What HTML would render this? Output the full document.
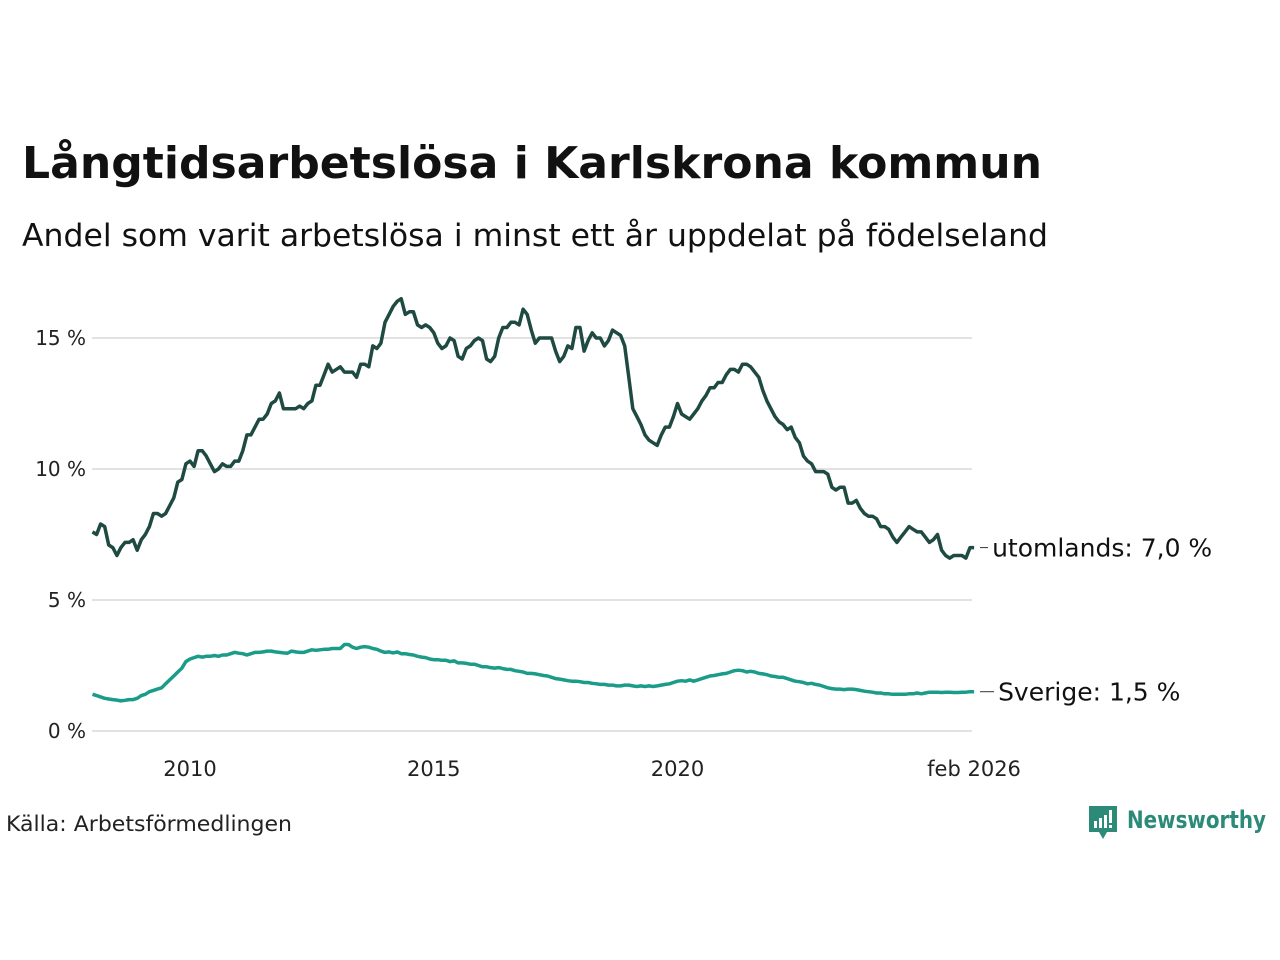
<!DOCTYPE html>
<html><head><meta charset="utf-8"><style>
body{margin:0;background:#fff;}
svg{display:block;font-family:"DejaVu Sans","Liberation Sans",sans-serif;}
</style></head><body>
<svg id="chart" width="1280" height="960" viewBox="0 0 1280 960">
<text x="22" y="178" font-size="44" font-weight="bold" fill="#111" textLength="1020" lengthAdjust="spacingAndGlyphs">Långtidsarbetslösa i Karlskrona kommun</text>
<text x="22" y="246" font-size="31" fill="#111" textLength="1026" lengthAdjust="spacingAndGlyphs">Andel som varit arbetslösa i minst ett år uppdelat på födelseland</text>
<g id="grid"></g>
<g id="yticks"></g>
<g id="xticks"></g>
<g id="lines"></g>
<text x="6" y="831" font-size="21" fill="#222" textLength="286" lengthAdjust="spacingAndGlyphs">Källa: Arbetsförmedlingen</text>
<g>
<path d="M1089 806 h28 v26 h-10 l-4 7 l-4 -7 h-10 z" fill="#2b8a78"/>
<rect x="1094" y="821" width="3" height="7" fill="#fff"/><rect x="1099" y="818" width="3" height="10" fill="#fff"/><rect x="1104" y="815" width="3" height="13" fill="#fff"/><rect x="1109" y="810" width="3" height="13" fill="#fff"/><rect x="1109" y="825" width="3" height="3" fill="#fff"/>
<text x="1127" y="828" font-size="24" font-weight="bold" fill="#2b8a78" textLength="139" lengthAdjust="spacingAndGlyphs">Newsworthy</text>
</g>
</svg>
<script>
const abroad=[7.6,7.5,7.9,7.8,7.1,7.0,6.7,7.0,7.2,7.2,7.3,6.9,
7.3,7.5,7.8,8.3,8.3,8.2,8.3,8.6,8.9,9.5,9.6,10.2,
10.3,10.1,10.7,10.7,10.5,10.2,9.9,10.0,10.2,10.1,10.1,10.3,
10.3,10.7,11.3,11.3,11.6,11.9,11.9,12.1,12.5,12.6,12.9,12.3,
12.3,12.3,12.3,12.4,12.3,12.5,12.6,13.2,13.2,13.6,14.0,13.7,
13.8,13.9,13.7,13.7,13.7,13.5,14.0,14.0,13.9,14.7,14.6,14.8,
15.6,15.9,16.2,16.4,16.5,15.9,16.0,16.0,15.5,15.4,15.5,15.4,
15.2,14.8,14.6,14.7,15.0,14.9,14.3,14.2,14.6,14.7,14.9,15.0,
14.9,14.2,14.1,14.3,15.0,15.4,15.4,15.6,15.6,15.5,16.1,15.9,
15.3,14.8,15.0,15.0,15.0,15.0,14.5,14.1,14.3,14.7,14.6,15.4,
15.4,14.5,14.9,15.2,15.0,15.0,14.7,14.9,15.3,15.2,15.1,14.7,
13.5,12.3,12.0,11.7,11.3,11.1,11.0,10.9,11.3,11.6,11.6,12.0,
12.5,12.1,12.0,11.9,12.1,12.3,12.6,12.8,13.1,13.1,13.3,13.3,
13.6,13.8,13.8,13.7,14.0,14.0,13.9,13.7,13.5,13.0,12.6,12.3,
12.0,11.8,11.7,11.5,11.6,11.2,11.0,10.5,10.3,10.2,9.9,9.9,
9.9,9.8,9.3,9.2,9.3,9.3,8.7,8.7,8.8,8.5,8.3,8.2,
8.2,8.1,7.8,7.8,7.7,7.4,7.2,7.4,7.6,7.8,7.7,7.6,
7.6,7.4,7.2,7.3,7.5,6.9,6.7,6.6,6.7,6.7,6.7,6.6,
7.0,7.0];
const sweden=[1.4,1.35,1.3,1.25,1.22,1.2,1.18,1.15,1.17,1.2,1.2,1.25,
1.35,1.4,1.5,1.55,1.6,1.65,1.8,1.95,2.1,2.25,2.4,2.65,
2.75,2.8,2.85,2.82,2.85,2.85,2.88,2.85,2.9,2.9,2.95,3.0,
2.97,2.95,2.9,2.95,3.0,3.0,3.02,3.05,3.05,3.02,3.0,2.98,
2.97,3.05,3.02,3.0,3.0,3.05,3.1,3.08,3.1,3.12,3.12,3.15,
3.15,3.15,3.3,3.3,3.2,3.15,3.2,3.22,3.2,3.15,3.12,3.05,
3.0,3.02,2.98,3.02,2.95,2.95,2.92,2.9,2.85,2.82,2.8,2.75,
2.72,2.72,2.7,2.7,2.65,2.68,2.6,2.6,2.58,2.55,2.55,2.5,
2.45,2.45,2.42,2.4,2.42,2.38,2.35,2.35,2.3,2.28,2.25,2.2,
2.2,2.18,2.15,2.12,2.1,2.05,2.0,1.98,1.95,1.92,1.9,1.9,
1.88,1.85,1.85,1.82,1.8,1.78,1.78,1.75,1.75,1.72,1.72,1.75,
1.75,1.72,1.7,1.72,1.7,1.72,1.7,1.72,1.75,1.78,1.8,1.85,
1.9,1.92,1.9,1.95,1.9,1.95,2.0,2.05,2.1,2.12,2.15,2.18,
2.2,2.25,2.3,2.32,2.3,2.25,2.28,2.25,2.2,2.18,2.15,2.1,
2.08,2.05,2.05,2.0,1.95,1.9,1.88,1.85,1.8,1.82,1.78,1.75,
1.7,1.65,1.62,1.6,1.6,1.58,1.6,1.6,1.58,1.55,1.52,1.5,
1.48,1.45,1.45,1.42,1.42,1.4,1.4,1.4,1.4,1.42,1.42,1.45,
1.42,1.45,1.48,1.48,1.48,1.47,1.48,1.48,1.47,1.47,1.48,1.48,
1.5,1.5];
const yTicks=[0,5,10,15];
const yTickLabels=["0 %","5 %","10 %","15 %"];
const xTicks=[2010,2015,2020,2026.083];
const xTickLabels=["2010","2015","2020","feb 2026"];
const startYear=2008;
const NS="http://www.w3.org/2000/svg";
const X=t=>190+(t-2010)*48.75;
const Y=v=>731-v*26.2;
function mk(tag,attrs,parent,txt){const e=document.createElementNS(NS,tag);for(const k in attrs)e.setAttribute(k,attrs[k]);if(txt!==undefined)e.textContent=txt;parent.appendChild(e);return e;}
const grid=document.getElementById('grid'),yt=document.getElementById('yticks'),xt=document.getElementById('xticks'),lines=document.getElementById('lines');
yTicks.forEach((v,i)=>{
 const l=mk('line',{x1:92,x2:972,y1:Y(v),y2:Y(v),stroke:'#e2e2e2','stroke-width':2},grid);
 
 
 const t=mk('text',{x:86,y:Y(v)+7,'font-size':20,fill:'#222','text-anchor':'end'},yt,yTickLabels[i]);
 
 
});
xTicks.forEach((v,i)=>{
 const t=mk('text',{x:X(v),y:776,'font-size':21,fill:'#222','text-anchor':'middle'},xt,xTickLabels[i]);
 
 
});
function series(arr,color,name,label,dx){
 const d=arr.map((v,i)=>(i?'L':'M')+X(startYear+i/12).toFixed(1)+' '+Y(v).toFixed(1)).join(' ');
 const p=mk('path',{d:d,fill:'none',stroke:color,'stroke-width':3.5,'stroke-linejoin':'round'},lines);
 
 
 const last=arr[arr.length-1],lx=X(startYear+(arr.length-1)/12);
 mk('line',{x1:lx+6,x2:lx+dx-4,y1:Y(last),y2:Y(last),stroke:'#333','stroke-width':1},lines);
 const t=mk('text',{x:lx+dx,y:Y(last)+9,'font-size':25,fill:'#111'},lines,label+last.toFixed(1).replace('.',',')+' %');
 
 
}
series(abroad,'#1f4a42','utomlands','utomlands: ',18);
series(sweden,'#1a9c88','sverige','Sverige: ',24);
</script>
</body></html>
